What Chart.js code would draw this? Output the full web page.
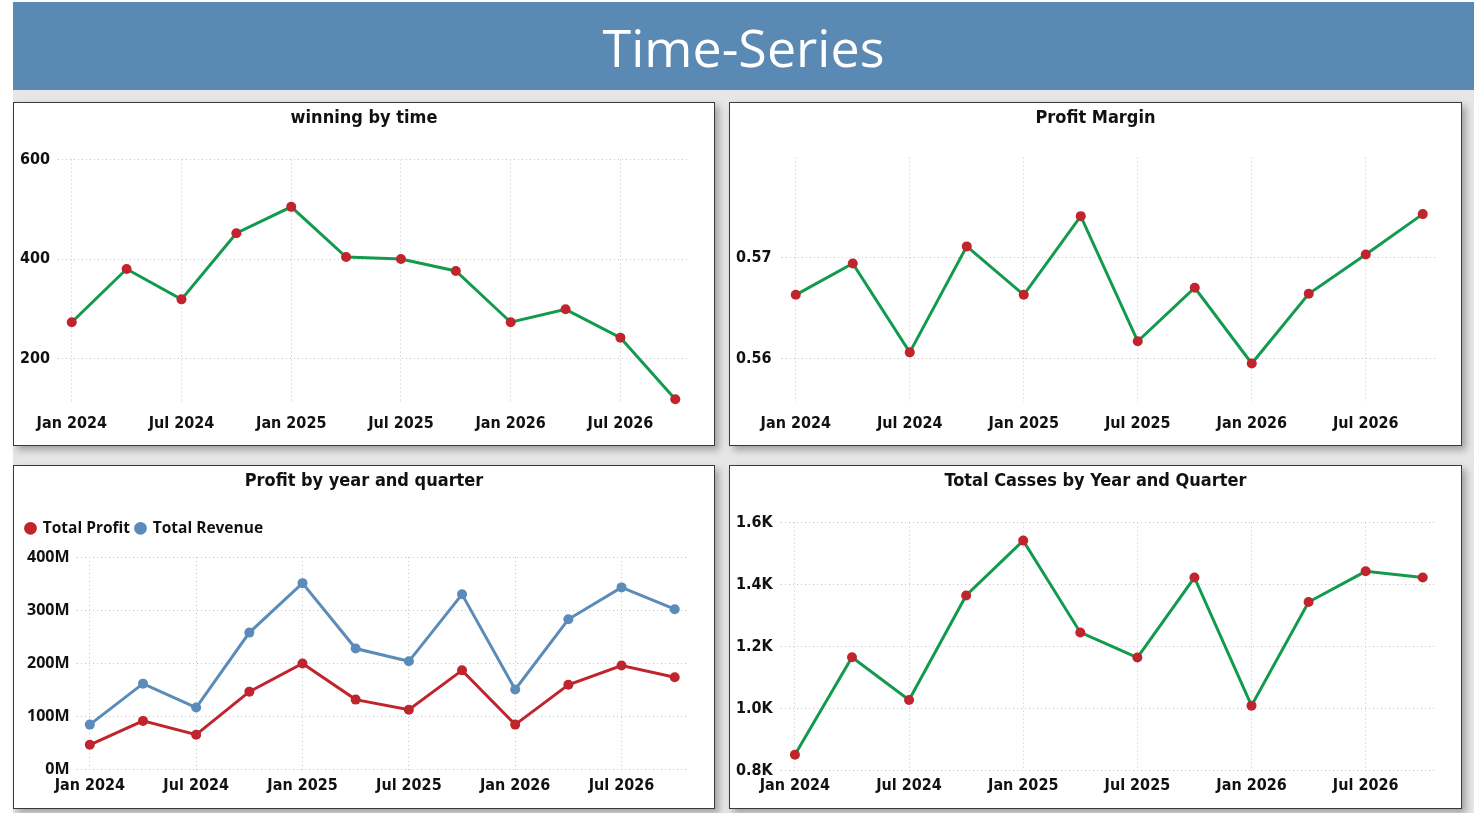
<!DOCTYPE html>
<html>
<head>
<meta charset="utf-8">
<title>Time-Series</title>
<script src="https://cdn.jsdelivr.net/npm/chart.js@4.4.1/dist/chart.umd.min.js"></script>
<style>
  html, body { margin: 0; padding: 0; background: #ffffff; }
  #page { position: relative; width: 1482px; height: 813px; overflow: hidden; }
  #backdrop { position: absolute; left: 13px; top: 2px; width: 1461px; height: 811px; background: #e6e6e6; }
  #header {
    position: absolute; left: 13px; top: 2px; width: 1461px; height: 88px;
    background: #5a89b4; color: #ffffff; text-align: center;
    font-family: "Open Sans", "Noto Sans", sans-serif; font-size: 52px; line-height: 90px;
  }
  .panel {
    position: absolute; background: #ffffff; border: 1.5px solid #3a3a3a;
    box-shadow: 4px 4px 7px rgba(0,0,0,0.3); box-sizing: border-box;
  }
  .panel canvas { display: block; }
  #p1 { left: 13px; top: 102px; width: 702px; height: 344px; }
  #p2 { left: 729px; top: 102px; width: 733px; height: 344px; }
  #p3 { left: 13px; top: 465px; width: 702px; height: 344px; }
  #p4 { left: 729px; top: 465px; width: 733px; height: 344px; }
</style>
</head>
<body>
<div id="page">
  <div id="backdrop"></div>
  <div id="header">Time-Series</div>
  <div class="panel" id="p1"><canvas id="c1"></canvas></div>
  <div class="panel" id="p2"><canvas id="c2"></canvas></div>
  <div class="panel" id="p3"><canvas id="c3"></canvas></div>
  <div class="panel" id="p4"><canvas id="c4"></canvas></div>
</div>
<script>
// quarters Jan 2024 .. Oct 2026
const quarters = ['2024 Q1', '2024 Q2', '2024 Q3', '2024 Q4', '2025 Q1', '2025 Q2',
                  '2025 Q3', '2025 Q4', '2026 Q1', '2026 Q2', '2026 Q3', '2026 Q4'];
// axis labels, one every second quarter
const tickLabels = ['Jan 2024', 'Jul 2024', 'Jan 2025', 'Jul 2025', 'Jan 2026', 'Jul 2026'];

const winning = [273, 380, 319, 452, 505, 404, 400, 376, 273, 299, 242, 118];
const winningTicks = [200, 400, 600];

const profitMargin = [0.5663, 0.5694, 0.5606, 0.5711, 0.5663, 0.5741,
                      0.5617, 0.5670, 0.5595, 0.5664, 0.5703, 0.5743];
const marginTicks = [0.56, 0.57];

const totalProfit = [47, 92, 66, 147, 200, 132, 113, 187, 85, 160, 196, 174];    // millions
const totalRevenue = [85, 162, 117, 258, 351, 228, 204, 330, 151, 283, 343, 302]; // millions
const moneyTicks = [0, 100, 200, 300, 400];

const totalCases = [852, 1166, 1028, 1365, 1542, 1246, 1165, 1423, 1010, 1344, 1443, 1423];
const casesTicks = [800, 1000, 1200, 1400, 1600];

const GREEN = '#129a4d';
const RED = '#c0242c';
const BLUE = '#5b8bb8';
const GRID = '#c8c8c8';
const condensed = '"DejaVu Sans Condensed", "Liberation Sans Narrow", sans-serif';

function toPoints(values) {
    return values.map((v, i) => ({ x: i, y: v }));
}

function setTicks(values) {
    return function(axis) {
        axis.ticks = values.map(v => ({ value: v }));
    };
}

// extra room under the legend
const legendGap = {
    id: 'legendGap',
    beforeInit(chart) {
        if (!chart.legend) return;
        const fit = chart.legend.fit;
        chart.legend.fit = function() {
            fit.call(this);
            this.height += 11;
        };
    }
};

function makeChart(id, title, datasets, yMin, yMax, yTicks, yFormat, extra) {
    extra = extra || {};
    const ctx = document.getElementById(id);
    return new Chart(ctx, {
        type: 'line',
        data: { datasets: datasets },
        options: {
            responsive: true,
            maintainAspectRatio: false,
            animation: false,
            layout: { padding: { left: 6, right: 6, top: 0, bottom: extra.bottom || 0 } },
            plugins: {
                title: {
                    display: true,
                    text: title,
                    color: '#111111',
                    font: { family: condensed, size: 18, weight: 'bold' },
                    padding: extra.titlePadding || { top: 5, bottom: 30 }
                },
                legend: extra.legend || { display: false },
                tooltip: { enabled: false }
            },
            scales: {
                x: {
                    type: 'linear',
                    min: -0.25,
                    max: quarters.length - 0.75,
                    afterBuildTicks: setTicks([0, 2, 4, 6, 8, 10]),
                    afterFit(axis) {
                        axis.paddingLeft = 0;
                        axis.paddingRight = extra.right || 25;
                    },
                    border: { display: false, dash: [1, 3] },
                    grid: { color: GRID, lineWidth: 1, tickLength: 0 },
                    ticks: {
                        color: '#111111',
                        padding: extra.xPad || 12,
                        maxRotation: 0,
                        font: { family: condensed, size: 16, weight: 'bold' },
                        callback: v => tickLabels[v / 2]
                    }
                },
                y: {
                    min: yMin,
                    max: yMax,
                    afterBuildTicks: setTicks(yTicks),
                    border: { display: false, dash: [1, 3] },
                    grid: { color: GRID, lineWidth: 1, tickLength: 0 },
                    ticks: {
                        color: '#111111',
                        padding: extra.yPad || 4,
                        crossAlign: extra.yAlign || 'far',
                        font: extra.yFont || { family: condensed, size: 16, weight: 'bold' },
                        callback: yFormat
                    }
                }
            }
        },
        plugins: extra.legend ? [legendGap] : []
    });
}

function greenLine(values) {
    return {
        data: toPoints(values),
        borderColor: GREEN,
        borderWidth: 3,
        pointRadius: 5,
        pointBackgroundColor: RED,
        pointBorderWidth: 0,
        tension: 0,
        clip: false
    };
}

makeChart('c1', 'winning by time', [greenLine(winning)], 113, 600, winningTicks,
    v => v, { yPad: 4 });

makeChart('c2', 'Profit Margin', [greenLine(profitMargin)], 0.5557, 0.5799, marginTicks,
    v => v.toFixed(2), { right: 24, titlePadding: { top: 5, bottom: 28 }, yPad: 5 });

makeChart('c3', 'Profit by year and quarter', [
    {
        label: 'Total Profit',
        data: toPoints(totalProfit),
        borderColor: RED,
        backgroundColor: RED,
        borderWidth: 3,
        pointRadius: 5,
        pointBackgroundColor: RED,
        pointBorderWidth: 0,
        clip: false
    },
    {
        label: 'Total Revenue',
        data: toPoints(totalRevenue),
        borderColor: BLUE,
        backgroundColor: BLUE,
        borderWidth: 3,
        pointRadius: 5,
        pointBackgroundColor: BLUE,
        pointBorderWidth: 0,
        clip: false
    }
], 0, 400, moneyTicks, v => v + 'M', {
    right: 26,
    bottom: 7,
    titlePadding: { top: 5, bottom: 22 },
    xPad: 6,
    yPad: 7,
    yAlign: 'near',
    yFont: { family: '"Open Sans", sans-serif', size: 16, weight: 'bold' },
    legend: {
        display: true,
        position: 'top',
        align: 'start',
        labels: {
            usePointStyle: true,
            pointStyle: 'circle',
            boxWidth: 9,
            boxHeight: 9,
            padding: 6,
            color: '#111111',
            font: { family: '"Open Sans", sans-serif', size: 15.5, weight: 'bold' }
        }
    }
});

makeChart('c4', 'Total Casses by Year and Quarter', [greenLine(totalCases)], 800, 1600, casesTicks,
    v => (v / 1000).toFixed(1) + 'K', { right: 24, bottom: 8, titlePadding: { top: 5, bottom: 30 }, xPad: 5, yPad: 4 });
</script>
</body>
</html>
